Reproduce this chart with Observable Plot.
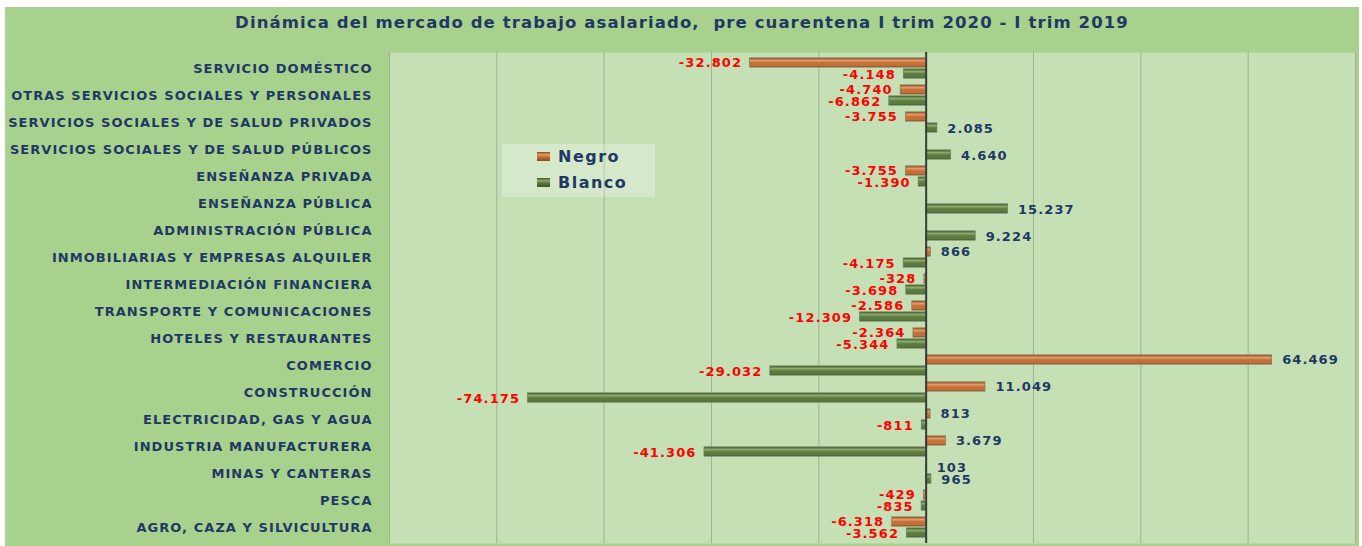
<!DOCTYPE html>
<html>
<head>
<meta charset="utf-8">
<script src="https://cdn.jsdelivr.net/npm/d3@7"></script>
<script src="https://cdn.jsdelivr.net/npm/@observablehq/plot@0.6"></script>
<style>
  html, body { margin: 0; padding: 0; background: #ffffff; }
  #wrap { position: absolute; left: 5px; top: 7px; width: 1354px; height: 539px; background: #a9d18e; overflow: hidden; }
  #title { height: 38px; line-height: 32px; text-align: center; font-family: "DejaVu Sans", sans-serif; font-weight: bold; font-size: 16.5px; letter-spacing: 1.1px; color: #1f3864; white-space: pre; }
  #chart { position: absolute; left: 0; top: 38px; }
  #legend { position: absolute; left: 497px; top: 137px; width: 153px; height: 53px; background: rgba(255,255,255,0.28); font-family: "DejaVu Sans", sans-serif; font-weight: bold; font-size: 16px; letter-spacing: 1.5px; color: #1f3864; }
  .li { position: absolute; left: 35px; height: 20px; line-height: 20px; }
  .sw { display: inline-block; width: 13px; height: 9px; margin-right: 8px; vertical-align: 1px; }
  #chart g[aria-label="y-axis tick label"] text { letter-spacing: 1.05px; }
  #chart g[aria-label="text"] text { letter-spacing: 1.1px; }
</style>
</head>
<body>
<div id="wrap">
  <div id="title">Dinámica del mercado de trabajo asalariado,  pre cuarentena I trim 2020 - I trim 2019</div>
  <div id="chart"></div>
  <div id="legend">
    <div class="li" style="top:3px"><span class="sw" style="background:linear-gradient(#8c4a1e,#e39a66 30%,#c46f36 55%,#8c4a1e)"></span>Negro</div>
    <div class="li" style="top:29px"><span class="sw" style="background:linear-gradient(#3e5528,#8cab6c 30%,#5b7a3d 55%,#3e5528)"></span>Blanco</div>
  </div>
</div>
<script>
const categories = [
  "SERVICIO DOMÉSTICO",
  "OTRAS SERVICIOS SOCIALES Y PERSONALES",
  "SERVICIOS SOCIALES Y DE SALUD PRIVADOS",
  "SERVICIOS SOCIALES Y DE SALUD PÚBLICOS",
  "ENSEÑANZA PRIVADA",
  "ENSEÑANZA PÚBLICA",
  "ADMINISTRACIÓN PÚBLICA",
  "INMOBILIARIAS Y EMPRESAS ALQUILER",
  "INTERMEDIACIÓN FINANCIERA",
  "TRANSPORTE Y COMUNICACIONES",
  "HOTELES Y RESTAURANTES",
  "COMERCIO",
  "CONSTRUCCIÓN",
  "ELECTRICIDAD, GAS Y AGUA",
  "INDUSTRIA MANUFACTURERA",
  "MINAS Y CANTERAS",
  "PESCA",
  "AGRO, CAZA Y SILVICULTURA"
];
const negro  = [-32802, -4740, -3755, null, -3755, null, null, 866, -328, -2586, -2364, 64469, 11049, 813, 3679, 103, -429, -6318];
const blanco = [-4148, -6862, 2085, 4640, -1390, 15237, 9224, -4175, -3698, -12309, -5344, -29032, -74175, -811, -41306, 965, -835, -3562];
const gridTicks = [-100000, -80000, -60000, -40000, -20000, 20000, 40000, 60000, 80000];

const locale = d3.formatLocale({decimal: ",", thousands: ".", grouping: [3], currency: ["$", ""], minus: "-"});
const fmt = locale.format(",d");

const rowsN = categories.map((c, i) => ({cat: c, v: negro[i]})).filter(d => d.v != null);
const rowsB = categories.map((c, i) => ({cat: c, v: blanco[i]}));

const plotH = 491;
const thick = 9.5;
const band = plotH / categories.length;
const inset = (band - thick) / 2;
const labelFont = {fontFamily: "DejaVu Sans, sans-serif", fontWeight: "bold", fontSize: 13};

function labels(rows, dy) {
  return [
    Plot.text(rows.filter(d => d.v < 0), {x: "v", y: "cat", text: d => fmt(d.v), dy, dx: -8, textAnchor: "end", fill: "#ff0000", ...labelFont}),
    Plot.text(rows.filter(d => d.v > 0), {x: "v", y: "cat", text: d => fmt(d.v), dy, dx: 10, textAnchor: "start", fill: "#1f3864", ...labelFont})
  ];
}

const svg = Plot.plot({
  width: 1354,
  height: 501,
  marginTop: 7,
  marginBottom: 3,
  marginLeft: 384,
  marginRight: 4,
  style: {background: "transparent", overflow: "visible"},
  x: {domain: [-100000, 80000], axis: null},
  y: {domain: categories, padding: 0, label: null},
  marks: [
    Plot.frame({fill: "#c5e0b4", stroke: null}),
    Plot.ruleX(gridTicks, {stroke: "#9fb093", strokeWidth: 1}),
    Plot.axisY({tickSize: 0, tickPadding: 17, fill: "#1f3864", fontFamily: "DejaVu Sans, sans-serif", fontWeight: "bold", fontSize: 13, label: null}),
    Plot.barX(rowsN, {x: "v", y: "cat", dy: -6, insetTop: inset, insetBottom: inset, fill: "url(#gNegro)", stroke: "#8a7a60", strokeWidth: 0.8}),
    Plot.barX(rowsB, {x: "v", y: "cat", dy: 5, insetTop: inset, insetBottom: inset, fill: "url(#gBlanco)", stroke: "#6e7d60", strokeWidth: 0.8}),
    ...labels(rowsN, -6),
    ...labels(rowsB, 6),
    Plot.ruleX([0], {stroke: "#3a3a3a", strokeWidth: 2})
  ]
});

const defs = d3.select(svg).insert("defs", ":first-child");
function grad(id, dark, light, mid) {
  const g = defs.append("linearGradient").attr("id", id).attr("x1", 0).attr("y1", 0).attr("x2", 0).attr("y2", 1);
  [[0, dark], [0.28, light], [0.55, mid], [0.82, mid], [1, dark]].forEach(([o, c]) => g.append("stop").attr("offset", o).attr("stop-color", c));
}
grad("gNegro", "#8c4a1e", "#e39a66", "#c46f36");
grad("gBlanco", "#3e5528", "#8cab6c", "#5b7a3d");

// extend the plot background to the right edge of the frame
d3.select(svg).select("[aria-label=frame] rect").attr("width", function() { return +this.getAttribute("width") + 4; });

document.getElementById("chart").appendChild(svg);
</script>
</body>
</html>
